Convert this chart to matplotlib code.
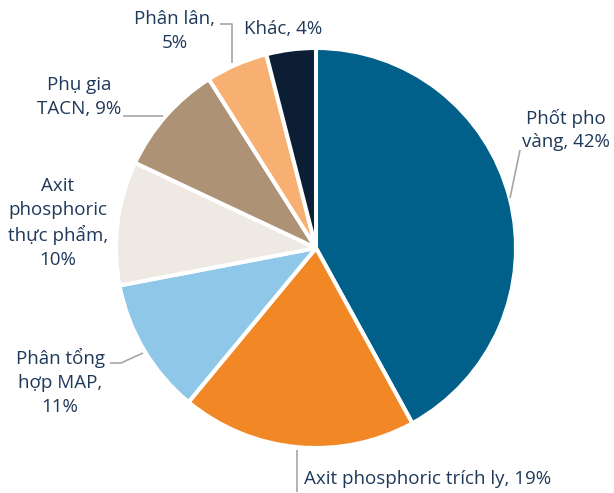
import matplotlib
matplotlib.use("Agg")
import matplotlib.pyplot as plt

labels = ["Phốt pho\nvàng, 42%", "Axit phosphoric trích ly, 19%", "Phân tổng\nhợp MAP,\n11%",
          "Axit\nphosphoric\nthực phẩm,\n10%", "Phụ gia\nTACN, 9%", "Phân lân,\n5%", "Khác, 4%"]
values = [42, 19, 11, 10, 9, 5, 4]
colors = ["#00608A", "#F28726", "#8EC7E7", "#EEE9E3", "#AE9276", "#F8AF72", "#0C1E33"]

W, H = 614, 493
fig = plt.figure(figsize=(W / 100, H / 100), dpi=100)
cx, cy, R = 316, 248, 200
ax = fig.add_axes([(cx - R) / W, (H - cy - R) / H, 2 * R / W, 2 * R / H])
ax.pie(values, colors=colors, startangle=90, counterclock=False, radius=1,
       wedgeprops=dict(edgecolor="white", linewidth=2.9, joinstyle="round"))
ax.set_xlim(-1, 1)
ax.set_ylim(-1, 1)
ax.set_aspect("equal")
ax.axis("off")

def d(px, py):
    return ((px - cx) / R, (cy - py) / R)

text_color = "#1E395A"
font = dict(family=["Open Sans", "DejaVu Sans"], fontsize=13.5, color=text_color)
pos = [((566, 130), "center"), ((304, 479), "left"), ((60, 382), "center"),
       ((58, 223), "center"), ((79, 97), "center"), ((175, 31), "center"), ((283, 29), "center")]
for lab, ((px, py), ha) in zip(labels, pos):
    x, y = d(px, py)
    ax.text(x, y, lab, ha=ha, va="center", linespacing=1.42, clip_on=False, **font)

leaders = [
    [(510, 198), (520, 150)],
    [(297, 450), (297, 492)],
    [(143, 353), (121, 363), (110, 363)],
    [(163, 116), (123, 116)],
    [(232, 63), (232, 24), (220, 24)],
]
for pts in leaders:
    xs, ys = zip(*[d(*p) for p in pts])
    ax.plot(xs, ys, color="#A6A6A6", lw=1.2, clip_on=False, solid_capstyle="butt")

fig.savefig("out.png", dpi=100)
